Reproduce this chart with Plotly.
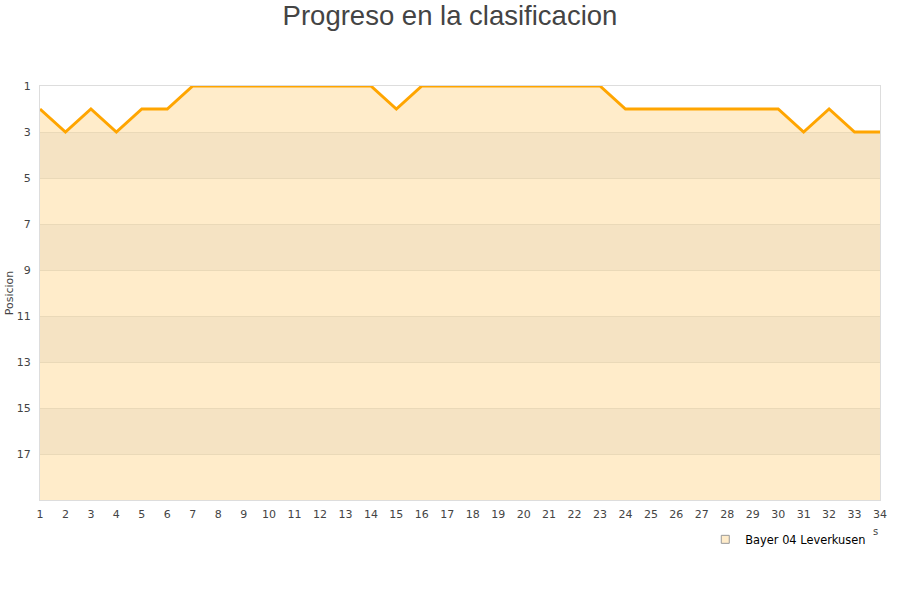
import plotly.graph_objects as go

jornadas = list(range(1, 35))
posiciones = [2, 3, 2, 3, 2, 2, 1, 1, 1, 1, 1, 1, 1, 1, 2, 1, 1, 1, 1, 1, 1, 1, 1,
              2, 2, 2, 2, 2, 2, 2, 3, 2, 3, 3]
equipo = "Bayer 04 Leverkusen"
y_ticks = [1, 3, 5, 7, 9, 11, 13, 15, 17]

LIGHT = "#FFECCA"
DARK = "#F5E3C3"

fig = go.Figure()

shapes = []
for i, lo in enumerate(range(1, 19, 2)):
    shapes.append(dict(type="rect", xref="paper", yref="y", x0=0, x1=1,
                       y0=lo, y1=lo + 2, fillcolor=LIGHT if i % 2 == 0 else DARK,
                       line=dict(width=0), layer="below"))

fig.add_trace(go.Scatter(x=jornadas, y=[1] * len(jornadas), mode="lines",
                         line=dict(width=0), showlegend=False, hoverinfo="skip"))
fig.add_trace(go.Scatter(x=jornadas, y=posiciones, mode="lines",
                         line=dict(color="#FFA500", width=3), fill="tonexty",
                         fillcolor="white", showlegend=False, hoverinfo="skip"))
fig.add_trace(go.Scatter(x=[None], y=[None], mode="markers", name=equipo,
                         marker=dict(symbol="square", size=8, color=LIGHT,
                                     line=dict(color="#999999", width=1))))

fig.update_layout(
    width=900, height=600,
    paper_bgcolor="white", plot_bgcolor="rgba(0,0,0,0)",
    margin=dict(l=40, r=20, t=86, b=100),
    shapes=shapes,
    title=dict(text="Progreso en la clasificacion", x=0.5, xanchor="center",
               y=0.975, yanchor="middle", font=dict(size=27.5, color="#444444",
                                                    family="Liberation Sans, Arial")),
    font=dict(family="DejaVu Sans, Arial", size=11, color="#444444"),
    xaxis=dict(range=[1, 34], tickmode="array", tickvals=jornadas, automargin=False,
               showgrid=False, zeroline=False, showline=True, linecolor="#DDDDDD",
               mirror=True, ticks="outside", ticklen=4, tickcolor="rgba(0,0,0,0)",
               tickfont=dict(size=11, color="#444444")),
    yaxis=dict(range=[19, 1], tickmode="array", tickvals=y_ticks, automargin=False,
               showgrid=True, gridcolor="#EAD9B8", zeroline=False, showline=True,
               linecolor="#DDDDDD", mirror=True, ticks="outside", ticklen=6,
               tickcolor="rgba(0,0,0,0)",
               title=dict(text="Posicion", font=dict(size=11, color="#444444"), standoff=0),
               tickfont=dict(size=11, color="#444444")),
    legend=dict(orientation="h", x=0.792, y=-0.06, xanchor="left", yanchor="top",
                font=dict(size=11.4, color="#000000"), bgcolor="rgba(0,0,0,0)"),
    annotations=[dict(text="s", xref="paper", yref="paper", x=1.0, y=-0.075,
                      xanchor="center", yanchor="middle", xshift=-5,
                      showarrow=False, font=dict(size=10, color="#444444"))],
)

fig.write_html("out.html", config={"displayModeBar": False},
               post_script="document.body.style.margin='0';")
